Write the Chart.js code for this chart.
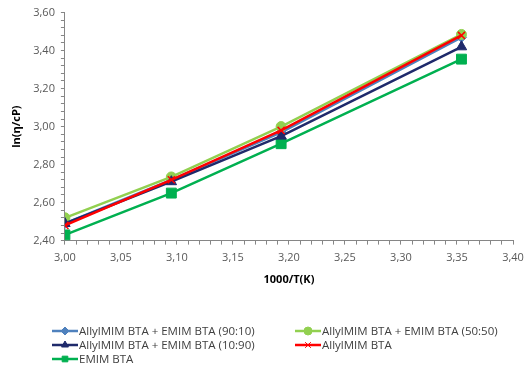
<!DOCTYPE html>
<html>
<head>
<meta charset="utf-8">
<script src="https://cdn.jsdelivr.net/npm/chart.js@4/dist/chart.umd.min.js"></script>
<style>
  html, body { margin: 0; padding: 0; background: #fff; }
  #wrap { width: 526px; height: 366px; position: relative; }
</style>
</head>
<body>
<div id="wrap"><canvas id="myChart"></canvas></div>
<script>
// 1000/T values
var invT = [3.00, 3.095, 3.193, 3.354];

var seriesNames = [
  'AllylMIM BTA + EMIM BTA (90:10)',
  'AllylMIM BTA + EMIM BTA (50:50)',
  'AllylMIM BTA + EMIM BTA (10:90)',
  'AllylMIM BTA',
  'EMIM BTA'
];

var mix9010 = [2.49, 2.72, 2.97, 3.47];
var mix5050 = [2.52, 2.735, 3.00, 3.485];
var mix1090 = [2.49, 2.71, 2.95, 3.42];
var allyl   = [2.48, 2.72, 2.98, 3.48];
var emim    = [2.43, 2.65, 2.91, 3.355];

function pts(ys) {
  return ys.map(function (y, i) { return {x: invT[i], y: y}; });
}

var colors = ['#4F81BD', '#92D050', '#1F2A6B', '#FF0000', '#00B050'];
var styles = ['rectRot', 'circle', 'triangle', 'crossRot', 'rect'];
var radii  = [5, 5, 6, 5, 7];
var allData = [mix9010, mix5050, mix1090, allyl, emim];
var drawOrder = [3, 2, 1, 0, 4];

var datasets = allData.map(function (d, i) {
  return {
    label: seriesNames[i],
    data: pts(d),
    borderColor: colors[i],
    backgroundColor: colors[i],
    pointStyle: styles[i],
    pointRadius: radii[i],
    pointBorderWidth: i == 3 ? 1.5 : 1,
    borderWidth: 2.5,
    showLine: true,
    order: drawOrder[i]
  };
});

// legend drawn in two columns like the original
var legendPlugin = {
  id: 'twoColLegend',
  afterDraw: function (chart) {
    var c = chart.ctx;
    var slots = [[52, 331], [295, 331], [52, 345], [295, 345], [52, 359]];
    c.save();
    c.font = '11.5px "Open Sans", sans-serif';
    c.textBaseline = 'middle';
    datasets.forEach(function (ds, i) {
      var x = slots[i][0], y = slots[i][1];
      c.strokeStyle = ds.borderColor;
      c.lineWidth = 2.5;
      c.beginPath();
      c.moveTo(x, y);
      c.lineTo(x + 26, y);
      c.stroke();
      c.fillStyle = ds.backgroundColor;
      c.lineWidth = 1;
      Chart.helpers.drawPoint(c, {pointStyle: ds.pointStyle, radius: 4, borderWidth: 1}, x + 13, y);
      c.fillStyle = '#404040';
      c.fillText(ds.label, x + 27, y + 1);
    });
    c.restore();
  }
};

var ctx = document.getElementById('myChart').getContext('2d');
var myChart = new Chart(ctx, {
  type: 'scatter',
  data: { datasets: datasets },
  plugins: [legendPlugin],
  options: {
    responsive: true,
    maintainAspectRatio: false,
    animation: false,
    layout: { padding: { top: 11, right: 13, bottom: 76, left: 6 } },
    plugins: {
      legend: { display: false },
      tooltip: { enabled: false }
    },
    scales: {
      x: {
        type: 'linear',
        min: 3.0,
        max: 3.4,
        afterFit: function (scale) { scale.paddingRight = 0; },
        title: {
          display: true,
          text: '1000/T(K)',
          color: '#000',
          font: { family: '"Open Sans", sans-serif', size: 11, weight: 'bold' },
          padding: { top: 1 }
        },
        border: { color: '#868686', width: 1 },
        grid: { drawOnChartArea: false, drawTicks: true, tickLength: 4, color: '#868686' },
        ticks: {
          stepSize: 0.01,
          autoSkip: false,
          maxRotation: 0,
          padding: 7,
          color: '#595959',
          font: { family: '"Open Sans", sans-serif', size: 11 },
          callback: function (v, i) {
            return i % 5 === 0 ? v.toFixed(2).replace('.', ',') : '';
          }
        }
      },
      y: {
        min: 2.4,
        max: 3.6,
        title: {
          display: true,
          text: 'ln(\u03b7/cP)',
          color: '#000',
          font: { family: '"Open Sans", sans-serif', size: 11, weight: 'bold' }
        },
        border: { color: '#868686', width: 1 },
        grid: { drawOnChartArea: false, drawTicks: true, tickLength: 4, color: '#868686' },
        ticks: {
          stepSize: 0.04,
          autoSkip: false,
          padding: 6,
          color: '#595959',
          font: { family: '"Open Sans", sans-serif', size: 11 },
          callback: function (v, i) {
            return i % 5 === 0 ? v.toFixed(2).replace('.', ',') : '';
          }
        }
      }
    }
  }
});
</script>
</body>
</html>
